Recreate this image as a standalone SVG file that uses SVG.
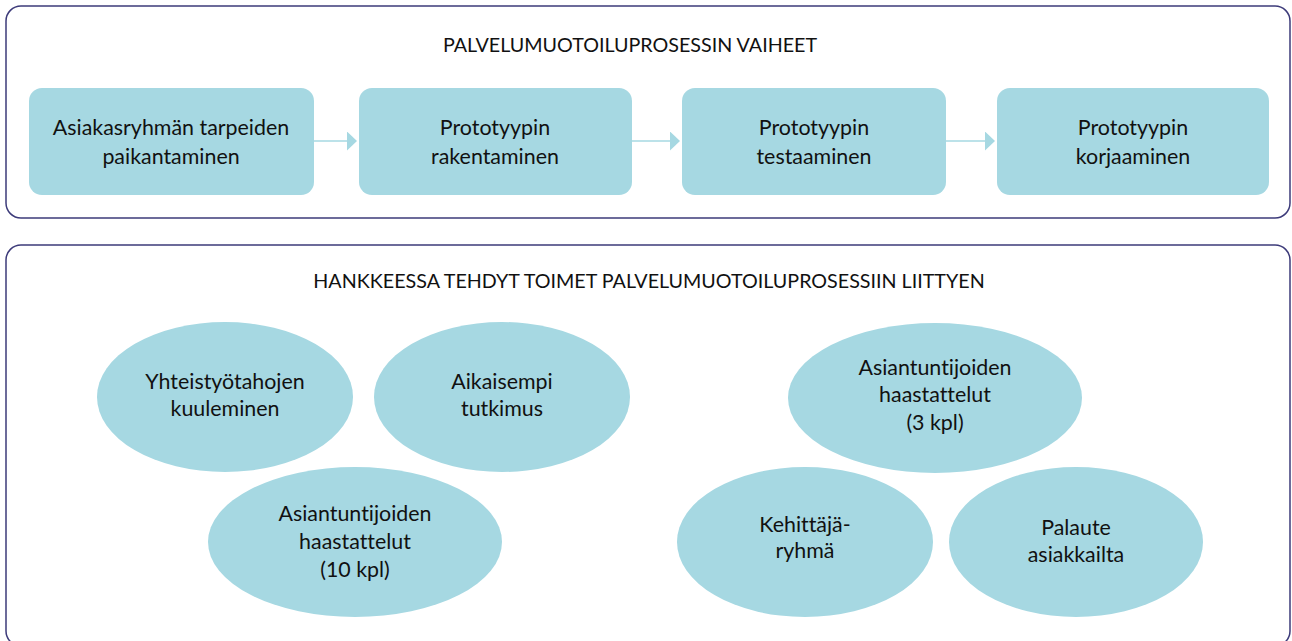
<svg xmlns="http://www.w3.org/2000/svg" width="1292" height="641" viewBox="0 0 1292 641">
  <defs>
    <style>
      .panel { fill: #ffffff; stroke: #3d3b7a; stroke-width: 1.5; }
      .box { fill: #a6d8e2; }
      .oval { fill: #a6d8e2; }
      text { font-variant-ligatures: none; font-feature-settings: "liga" 0, "clig" 0; }
      .title { font-family: "Lato", "Noto Sans", sans-serif; font-size: 19.7px; fill: #111111; text-anchor: middle; }
      .lbl { font-family: "Lato", "Noto Sans", sans-serif; font-size: 21.4px; fill: #111111; text-anchor: middle; }
      .conn { stroke: #a6d8e2; stroke-width: 1.5; fill: none; marker-end: url(#arr); }
    </style>
    <marker id="arr" viewBox="0 0 10 19" refX="0" refY="9.5" markerWidth="10" markerHeight="19" markerUnits="userSpaceOnUse" orient="auto">
      <path d="M0,0 L10,9.5 L0,19 Z" fill="#a6d8e2"/>
    </marker>
  </defs>

  <rect class="panel" x="6" y="6" width="1284" height="212" rx="15"/>
  <rect class="panel" x="6" y="245" width="1284" height="401" rx="15"/>

  <text class="title" x="630" y="52">PALVELUMUOTOILUPROSESSIN VAIHEET</text>
  <text class="title" x="649" y="288">HANKKEESSA TEHDYT TOIMET PALVELUMUOTOILUPROSESSIIN LIITTYEN</text>

  <g id="connectors">
    <line class="conn" x1="314" y1="141" x2="347" y2="141"/>
    <line class="conn" x1="632" y1="141" x2="670" y2="141"/>
    <line class="conn" x1="946" y1="141" x2="985" y2="141"/>
  </g>

  <g id="step1">
    <rect class="box" x="29" y="88" width="285" height="107" rx="13"/>
    <text class="lbl" x="171" y="135">Asiakasryhmän tarpeiden</text>
    <text class="lbl" x="171" y="164">paikantaminen</text>
  </g>
  <g id="step2">
    <rect class="box" x="359" y="88" width="273" height="107" rx="13"/>
    <text class="lbl" x="495" y="135">Prototyypin</text>
    <text class="lbl" x="495" y="164">rakentaminen</text>
  </g>
  <g id="step3">
    <rect class="box" x="682" y="88" width="264" height="107" rx="13"/>
    <text class="lbl" x="814" y="135">Prototyypin</text>
    <text class="lbl" x="814" y="164">testaaminen</text>
  </g>
  <g id="step4">
    <rect class="box" x="997" y="88" width="272" height="107" rx="13"/>
    <text class="lbl" x="1133" y="135">Prototyypin</text>
    <text class="lbl" x="1133" y="164">korjaaminen</text>
  </g>

  <g id="yhteistyo">
    <ellipse class="oval" cx="225" cy="397" rx="128" ry="75"/>
    <text class="lbl" x="225" y="389">Yhteistyötahojen</text>
    <text class="lbl" x="225" y="416">kuuleminen</text>
  </g>
  <g id="aikaisempi">
    <ellipse class="oval" cx="502" cy="397" rx="128" ry="75"/>
    <text class="lbl" x="502" y="389">Aikaisempi</text>
    <text class="lbl" x="502" y="416">tutkimus</text>
  </g>
  <g id="haastattelut10">
    <ellipse class="oval" cx="355" cy="542" rx="147" ry="75"/>
    <text class="lbl" x="355" y="521">Asiantuntijoiden</text>
    <text class="lbl" x="355" y="549">haastattelut</text>
    <text class="lbl" x="355" y="577">(10 kpl)</text>
  </g>
  <g id="haastattelut3">
    <ellipse class="oval" cx="935" cy="398" rx="147" ry="75"/>
    <text class="lbl" x="935" y="375">Asiantuntijoiden</text>
    <text class="lbl" x="935" y="402">haastattelut</text>
    <text class="lbl" x="935" y="430">(3 kpl)</text>
  </g>
  <g id="kehittajaryhma">
    <ellipse class="oval" cx="805" cy="542" rx="128" ry="75"/>
    <text class="lbl" x="805" y="532">Kehittäjä-</text>
    <text class="lbl" x="805" y="558">ryhmä</text>
  </g>
  <g id="palaute">
    <ellipse class="oval" cx="1076" cy="542" rx="127" ry="75"/>
    <text class="lbl" x="1076" y="535">Palaute</text>
    <text class="lbl" x="1076" y="562">asiakkailta</text>
  </g>
</svg>
